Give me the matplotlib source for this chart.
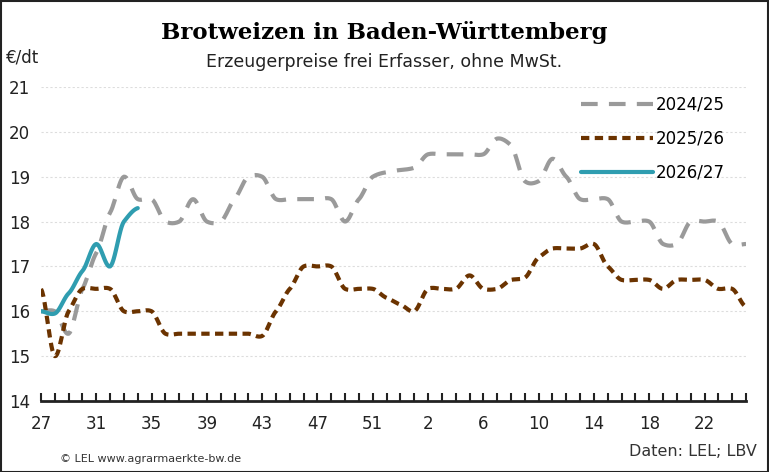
import numpy as np
import matplotlib
matplotlib.use("Agg")
import matplotlib.pyplot as plt
from matplotlib.patches import Rectangle

weeks = list(range(27, 54)) + list(range(1, 26))
tick_labels = ["27", "31", "35", "39", "43", "47", "51", "2", "6", "10", "14", "18", "22"]
s2425 = [16.0, 16.0, 15.5, 16.5, 17.3, 18.2, 19.0, 18.5, 18.5, 18.0, 18.0, 18.5, 18.0, 18.0, 18.5, 19.0,
         19.0, 18.5, 18.5, 18.5, 18.5, 18.5, 18.0, 18.5, 19.0, 19.1, 19.15, 19.2, 19.5, 19.5, 19.5, 19.5,
         19.5, 19.85, 19.7, 18.9, 18.9, 19.4, 19.0, 18.5, 18.5, 18.5, 18.0, 18.0, 18.0, 17.5, 17.5, 18.0,
         18.0, 18.0, 17.5, 17.5]
s2526 = [16.5, 15.0, 16.0, 16.5, 16.5, 16.5, 16.0, 16.0, 16.0, 15.5, 15.5, 15.5, 15.5, 15.5, 15.5, 15.5,
         15.45, 16.0, 16.5, 17.0, 17.0, 17.0, 16.5, 16.5, 16.5, 16.3, 16.15, 16.0, 16.5, 16.5, 16.5, 16.8,
         16.5, 16.5, 16.7, 16.75, 17.2, 17.4, 17.4, 17.4, 17.5, 17.0, 16.7, 16.7, 16.7, 16.5, 16.7, 16.7,
         16.7, 16.5, 16.5, 16.1]
s2627 = [16.0, 15.95, 16.4, 16.9, 17.5, 17.0, 18.0, 18.3]

def smooth(y, n=12):
    y = np.asarray(y, float)
    x = np.arange(len(y))
    p = np.concatenate([[y[0]], y, [y[-1]]])
    xs, ys = [], []
    for i in range(len(y) - 1):
        p0, p1, p2, p3 = p[i], p[i+1], p[i+2], p[i+3]
        t = np.linspace(0, 1, n, endpoint=False)
        m1 = (p2 - p0) / 2 * 0.6
        m2 = (p3 - p1) / 2 * 0.6
        h00 = 2*t**3 - 3*t**2 + 1; h10 = t**3 - 2*t**2 + t
        h01 = -2*t**3 + 3*t**2; h11 = t**3 - t**2
        ys.append(h00*p1 + h10*m1 + h01*p2 + h11*m2)
        xs.append(x[i] + t)
    xs.append([x[-1]]); ys.append([y[-1]])
    return np.concatenate(xs), np.concatenate(ys)

W, H = 769, 472
fig = plt.figure(figsize=(W/100, H/100), dpi=100)
ax = fig.add_axes([41/W, 1-401/H, (746-41)/W, (401-87)/H])
ax.set_xlim(0, 51)
ax.set_ylim(14, 21)

x, y = smooth(s2425)
ax.plot(x, y, color="#9a9a9a", lw=3, dashes=(4, 2.7), label="2024/25", solid_capstyle="butt")
x, y = smooth(s2526)
ax.plot(x, y, color="#6b3300", lw=3, dashes=(2, 1.3), label="2025/26")
x, y = smooth(s2627)
ax.plot(x, y, color="#2f9db0", lw=3, label="2026/27", solid_capstyle="round")

ax.set_yticks(range(14, 22))
for v in range(15, 22):
    ax.axhline(v, color="#dddddd", lw=0.8, ls=(0, (2, 2)), zorder=0)
ax.set_xticks(range(0, 52), minor=True)
ax.set_xticks([weeks.index(int(t)) if int(t) > 26 else 26 + int(t) for t in tick_labels])
ax.set_xticklabels(tick_labels)
ax.tick_params(axis="x", which="both", direction="in", length=6, width=1.5, color="#222222", labelsize=12, pad=10)
ax.tick_params(axis="y", length=0, labelsize=12, pad=8)
for s in ["top", "right", "left"]:
    ax.spines[s].set_visible(False)
ax.spines["bottom"].set_linewidth(2)
ax.spines["bottom"].set_color("#222222")
for lab in ax.get_xticklabels() + ax.get_yticklabels():
    lab.set_color("#222222")

leg = ax.legend(loc="upper left", bbox_to_anchor=(0.745, 1.02), frameon=False, fontsize=12,
                handlelength=4.3, labelspacing=0.95, handletextpad=0.15)

fig.text(0.5, 1-32/H, "Brotweizen in Baden-Württemberg", ha="center", va="center",
         fontsize=16.5, fontweight="bold", family="DejaVu Serif")
fig.text(0.5, 1-62/H, "Erzeugerpreise frei Erfasser, ohne MwSt.", ha="center", va="center", fontsize=12.5, color="#222222")
fig.text(6/W, 1-58/H, "€/dt", ha="left", va="center", fontsize=12, color="#222222")
fig.text(60/W, 1-459/H, "© LEL www.agrarmaerkte-bw.de", ha="left", va="center", fontsize=8, color="#333333")
fig.text(757/W, 1-452/H, "Daten: LEL; LBV", ha="right", va="center", fontsize=11.5, color="#333333")
fig.patches.append(Rectangle((0.5/W, 0.5/H), 1-1.5/W, 1-1.5/H, transform=fig.transFigure,
                             fill=False, edgecolor="#222222", lw=1.5))
fig.savefig("out.png", dpi=100)
